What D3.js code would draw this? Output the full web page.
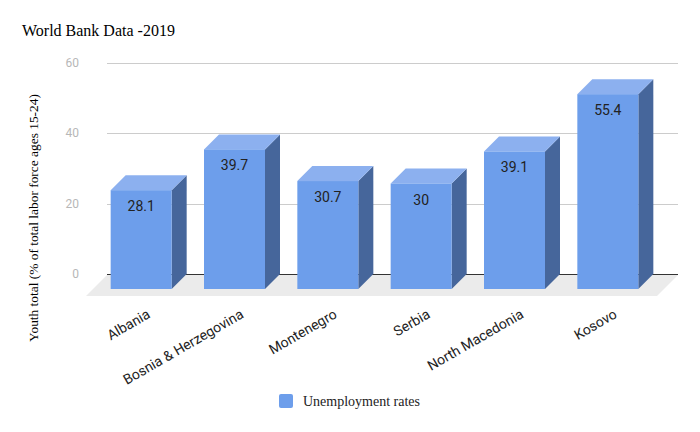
<!DOCTYPE html>
<html>
<head>
<meta charset="utf-8">
<script src="https://cdn.jsdelivr.net/npm/d3@7"></script>
<style>
  html, body { margin: 0; padding: 0; background: #fff; }
  svg { display: block; }
</style>
</head>
<body>
<svg id="chart" width="700" height="432"></svg>
<script>
// ---- data ----
const categories = ["Albania", "Bosnia & Herzegovina", "Montenegro", "Serbia", "North Macedonia", "Kosovo"];
const values = [28.1, 39.7, 30.7, 30, 39.1, 55.4];
const yTicks = [0, 20, 40, 60];
const seriesName = "Unemployment rates";
const title = "World Bank Data -2019";
const yTitle = "Youth total (% of total labor force ages 15-24)";

// ---- layout ----
const W = 700, H = 432;
const D = 15;             // 3D depth offset (x right, y up toward back)
const backX0 = 107, backX1 = 678;
const svg = d3.select("#chart");
const serif = "'Liberation Serif', 'Times New Roman', serif";
const sans = "Roboto, Arial, sans-serif";

const y = d3.scaleLinear().domain([0, 60]).range([274, 63]);   // back plane
const x = d3.scaleBand().domain(categories)
  .range([94.5, 654.5]).paddingInner(0.3464).paddingOuter(0.1732); // front faces

const colFront = "#6d9eeb", colSide = "#46669b", colTop = "#8cb0ef";

// title
svg.append("text").attr("x", 22).attr("y", 36)
  .attr("font-family", serif).attr("font-size", 16).attr("fill", "#000")
  .text(title);

// y-axis title
svg.append("text")
  .attr("transform", `translate(38,${218}) rotate(-90)`)
  .attr("text-anchor", "middle")
  .attr("font-family", serif).attr("font-size", 13.4).attr("fill", "#000")
  .text(yTitle);

// floor
const floorBackY = y(0) + 1, floorDepth = 21;
svg.append("path")
  .attr("d", `M${backX0},${floorBackY} L${backX1},${floorBackY} L${backX1 - floorDepth},${floorBackY + floorDepth} L${backX0 - floorDepth},${floorBackY + floorDepth} Z`)
  .attr("fill", "#ebebeb");

// gridlines (back plane)
const grid = svg.append("g");
grid.selectAll("line").data(yTicks).join("line")
  .attr("x1", backX0).attr("x2", backX1)
  .attr("y1", d => Math.round(y(d)) + 0.5).attr("y2", d => Math.round(y(d)) + 0.5)
  .attr("stroke", d => d === 0 ? "#333" : "#cccccc").attr("stroke-width", 1);

// tick labels
svg.append("g").selectAll("text").data(yTicks).join("text")
  .attr("x", 79).attr("y", d => y(d) + 4)
  .attr("text-anchor", "end")
  .attr("font-family", sans).attr("font-size", 12).attr("fill", "#b7b7b7")
  .text(d => d);

// bars
const frontBase = y(0) + D;
const bars = svg.append("g").selectAll("g").data(categories).join("g");
bars.each(function(c, i) {
  const g = d3.select(this);
  const x0 = x(c), bw = x.bandwidth(), x1 = x0 + bw;
  const h = y(0) - y(values[i]);
  const top = frontBase - h;
  // side
  g.append("path")
    .attr("d", `M${x1},${top} L${x1 + D},${top - D} L${x1 + D},${frontBase - D} L${x1},${frontBase} Z`)
    .attr("fill", colSide);
  // top
  g.append("path")
    .attr("d", `M${x0},${top} L${x0 + D},${top - D} L${x1 + D},${top - D} L${x1},${top} Z`)
    .attr("fill", colTop);
  // front
  g.append("rect").attr("x", x0).attr("y", top).attr("width", bw).attr("height", h)
    .attr("fill", colFront);
  // value label
  g.append("text").attr("x", x0 + bw / 2).attr("y", top + 21)
    .attr("text-anchor", "middle")
    .attr("font-family", sans).attr("font-size", 14).attr("fill", "#222")
    .text(values[i]);
});

// x labels
svg.append("g").selectAll("text").data(categories).join("text")
  .attr("transform", d => `translate(${x(d) + x.bandwidth() / 2 + 10},${317}) rotate(-30)`)
  .attr("text-anchor", "end")
  .attr("font-family", sans).attr("font-size", 14).attr("fill", "#222")
  .text(d => d);

// legend
svg.append("rect").attr("x", 279).attr("y", 394).attr("width", 14).attr("height", 14)
  .attr("rx", 2).attr("fill", colFront);
svg.append("text").attr("x", 303).attr("y", 406)
  .attr("font-family", serif).attr("font-size", 14).attr("fill", "#222")
  .text(seriesName);
</script>
</body>
</html>
